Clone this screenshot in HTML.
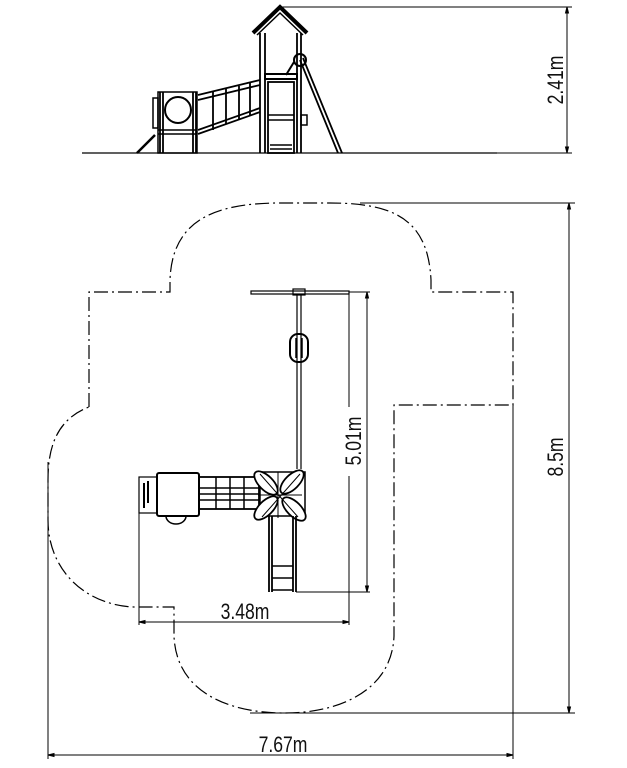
<!DOCTYPE html>
<html><head><meta charset="utf-8"><style>
html,body{margin:0;padding:0;background:#fff;}
svg{display:block}
text{font-family:"Liberation Sans",sans-serif;fill:#111;font-size:22px}
</style></head><body>
<svg width="627" height="768" viewBox="0 0 627 768" xmlns="http://www.w3.org/2000/svg">
<g fill="none" stroke="#000" stroke-width="1">
<!-- ELEVATION -->
<line x1="82" y1="153" x2="497" y2="153" stroke-width="1.2"/>
<line x1="280" y1="7" x2="572" y2="7"/>
<line x1="497" y1="153" x2="572" y2="153"/>
<line x1="567" y1="7" x2="567" y2="153"/>
<path d="M567,7 l-1.5,6 h3z M567,153 l-1.5,-6 h3z" fill="#000"/>
<path d="M253,33 L280,7 L307,33" stroke-width="4"/>
<path d="M257,35 L280,13 L303,35" stroke-width="1.5"/>
<path d="M260,33 V153 M265,33 V153 M297,33 V153 M301,33 V153" stroke-width="1.8"/>
<rect x="265" y="74" width="32" height="5" stroke-width="2"/>
<rect x="268" y="82" width="26" height="71" stroke-width="1.8"/>
<path d="M268,115 H294 M268,120 H294 M270,145 H292 M270,149 H292" stroke-width="1.5"/>
<rect x="301" y="115" width="6" height="10" stroke-width="1.5"/>
<circle cx="300" cy="60" r="6" stroke-width="2"/>
<path d="M300,60 L338,153 M303,58 L342,153" stroke-width="1.8"/>
<path d="M294,62 L286,75" stroke-width="2"/>
<path d="M198,95 L260,80 M198,100 L260,85 M198,130 L260,108 M198,134 L260,112" stroke-width="1.8"/>
<path d="M213,92 V130 M226,89 V124 M239,86 V119 M250,83 V115" stroke-width="1.8"/>
<rect x="158" y="92" width="39" height="61" stroke-width="1.5"/>
<path d="M160,92 V153 M163,92 V153 M193,92 V153 M196,92 V153" stroke-width="1.8"/>
<circle cx="178" cy="110" r="13" stroke-width="2"/>
<path d="M158,130 H197 M158,134 H197" stroke-width="1.5"/>
<rect x="153" y="98" width="5" height="30" stroke-width="1.5"/>
<path d="M137,153 L155,135" stroke-width="2.5"/>

<!-- PLAN boundary -->
<path d="M89,407 L89,292 L170,292 V280 C172,220 215,203 280,203 H330 C395,203 428,220 431,280 V292 L513,292 L513,405 L394,405 L394,636 C392,690 340,713 285,713 C225,713 176,690 174,636 L174,607 L134,607 C85,605 48,570 48,520 V480 C48,450 55,420 89,407" stroke-width="1.2" stroke-dasharray="14,4,2,4"/>
<!-- dimension lines -->
<line x1="360" y1="203" x2="575" y2="203"/>
<line x1="250" y1="713" x2="575" y2="713"/>
<line x1="569" y1="203" x2="569" y2="713"/>
<path d="M569,203 l-1.5,6 h3z M569,713 l-1.5,-6 h3z" fill="#000"/>
<line x1="48" y1="462" x2="48" y2="759"/>
<line x1="513" y1="405" x2="513" y2="759"/>
<line x1="48" y1="755" x2="513" y2="755"/>
<path d="M48,755 l6,-1.5 v3z M513,755 l-6,-1.5 v3z" fill="#000"/>
<line x1="349" y1="292" x2="370" y2="292"/>
<line x1="296" y1="592" x2="370" y2="592"/>
<line x1="367" y1="292" x2="367" y2="592"/>
<path d="M367,292 l-1.5,6 h3z M367,592 l-1.5,-6 h3z" fill="#000"/>
<line x1="349" y1="292" x2="349" y2="407"/>
<line x1="349" y1="476" x2="349" y2="625"/>
<line x1="139" y1="478" x2="139" y2="625"/>
<line x1="139" y1="622" x2="349" y2="622"/>
<path d="M139,622 l6,-1.5 v3z M349,622 l-6,-1.5 v3z" fill="#000"/>
<!-- swing plan -->
<rect x="251" y="291" width="98" height="3" stroke-width="1.2"/>
<rect x="293" y="289" width="12" height="6" stroke-width="1.2"/>
<path d="M297,294 V469 M301,294 V469" stroke-width="1.2"/>
<rect x="290" y="334" width="18" height="28" rx="8" stroke-width="2"/>
<path d="M296,338 V358 M302,338 V358" stroke-width="1.5"/>
<!-- tube box plan -->
<rect x="139" y="477" width="18" height="36" stroke-width="1.2"/>
<path d="M144,483 V508 M148,481 V503" stroke-width="2"/>
<rect x="157" y="473" width="42" height="43" rx="2" stroke-width="2"/>
<path d="M166,516 A10,8 0 0 0 186,516" stroke-width="1.5"/>
<!-- net plan -->
<rect x="199" y="477" width="60" height="32" stroke-width="1.8"/>
<path d="M216,477 V509 M230,477 V509 M244,477 V509 M199,488 H259 M199,494 H259 M199,500 H259" stroke-width="1.5"/>
<!-- tower -->
<rect x="260" y="472" width="45" height="44" stroke-width="1.5"/>
<g stroke-width="1.8" fill="#fff">
<ellipse cx="266" cy="483" rx="15" ry="7" transform="rotate(45 266 483)"/>
<ellipse cx="292" cy="482" rx="15" ry="7" transform="rotate(-45 292 482)"/>
<ellipse cx="294" cy="509" rx="15" ry="7" transform="rotate(45 294 509)"/>
<ellipse cx="266" cy="508" rx="15" ry="7" transform="rotate(-45 266 508)"/>
</g>
<path d="M260,474 L298,517 M300,474 L262,517 M278,472 V518 M258,495 H302" stroke-width="1"/>
<!-- slide -->
<path d="M269,516 V592 M272,516 V592 M293,516 V592 M296,516 V592" stroke-width="1.8"/>
<path d="M272,566 H293 M272,578 H293 M272,590 H293" stroke-width="1.5"/>
</g>
<text transform="translate(563,80) rotate(-90) scale(0.8,1)" text-anchor="middle">2.41m</text>
<text transform="translate(563,457) rotate(-90) scale(0.8,1)" text-anchor="middle">8.5m</text>
<text transform="translate(361,441) rotate(-90) scale(0.8,1)" text-anchor="middle">5.01m</text>
<text transform="translate(245,619) scale(0.8,1)" text-anchor="middle">3.48m</text>
<text transform="translate(283,752) scale(0.8,1)" text-anchor="middle">7.67m</text>
</svg>
</body></html>
